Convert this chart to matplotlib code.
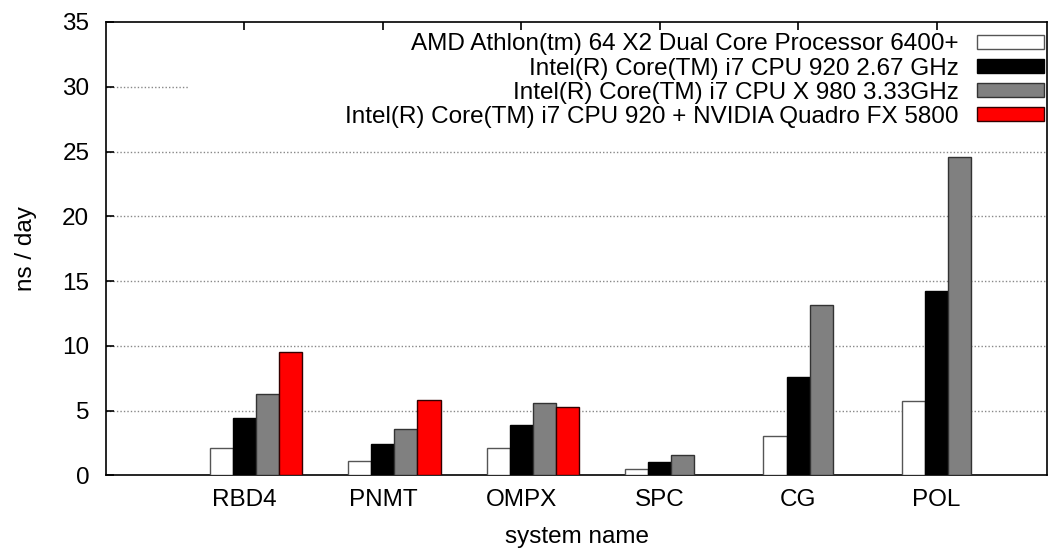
import numpy as np
import matplotlib
matplotlib.use("Agg")
import matplotlib.pyplot as plt
from matplotlib.patches import Rectangle

plt.rcParams['font.family'] = ['Liberation Sans', 'DejaVu Sans']

# data (ns/day)
systems = ["RBD4", "PNMT", "OMPX", "SPC", "CG", "POL"]
series_names = [
    "AMD Athlon(tm) 64 X2 Dual Core Processor 6400+",
    "Intel(R) Core(TM) i7 CPU 920 2.67 GHz",
    "Intel(R) Core(TM) i7 CPU X 980 3.33GHz",
    "Intel(R) Core(TM) i7 CPU 920 + NVIDIA Quadro FX 5800",
]
amd_6400 = [2.1, 1.1, 2.1, 0.45, 3.05, 5.75]
i7_920 = [4.4, 2.4, 3.85, 1.0, 7.6, 14.25]
i7_x980 = [6.25, 3.55, 5.6, 1.55, 13.15, 24.55]
i7_920_gpu = [9.55, 5.85, 5.3, np.nan, np.nan, np.nan]

series = [amd_6400, i7_920, i7_x980, i7_920_gpu]
colors = ["white", "black", "#808080", "#ff0000"]
edges = ["#555555", "black", "#333333", "#330000"]

fs = 17.5

fig = plt.figure(figsize=(10.63, 5.5), dpi=100)
ax = fig.add_axes([0.0997, 0.1358, 0.8855, 0.8242])

x = np.arange(len(systems))
width = 1.0 / 6
for j, (vals, name) in enumerate(zip(series, series_names)):
    ax.bar(x + (j - 1) * width, vals, width, color=colors[j],
           edgecolor=edges[j], linewidth=1.0, label=name, zorder=3)

ax.set_xlim(-1, 5.8)
ax.set_ylim(0, 35)
ax.set_yticks(np.arange(0, 36, 5))
ax.set_xticks(x)
ax.set_xticklabels(systems)
ax.tick_params(axis='both', labelsize=fs, direction='in', length=6, width=1.2)
ax.tick_params(axis='x', top=True, pad=10)
ax.tick_params(axis='y', right=False, pad=12)
# ticks above the key box, below the bars
ax.set_axisbelow(False)

for v in range(5, 35, 5):
    ax.axhline(v, color='#888888', linestyle=(0, (1, 1.5)), linewidth=1, zorder=1)

# opaque key box like gnuplot (hides part of the 30 grid line)
ax.add_patch(Rectangle((0.087, 0.773), 0.913, 0.195, transform=ax.transAxes,
                       facecolor='white', edgecolor='none', zorder=2))

for s in ax.spines.values():
    s.set_linewidth(1.2)

ax.set_xlabel("system name", fontsize=fs, va='center')
ax.xaxis.set_label_coords(0.5, -0.136)
ax.set_ylabel("ns / day", fontsize=fs, va='center')
ax.yaxis.set_label_coords(-0.085, 0.5)

leg = ax.legend(loc='upper right', bbox_to_anchor=(0.9965, 0.975),
                fontsize=fs, markerfirst=False, frameon=False,
                handlelength=2.75, handleheight=0.5, handletextpad=0.75,
                labelspacing=0.09, borderpad=0, borderaxespad=0)
for t in leg.get_texts():
    t.set_ha('right')
leg._legend_box.align = "right"

fig.savefig("out.png", dpi=100)
